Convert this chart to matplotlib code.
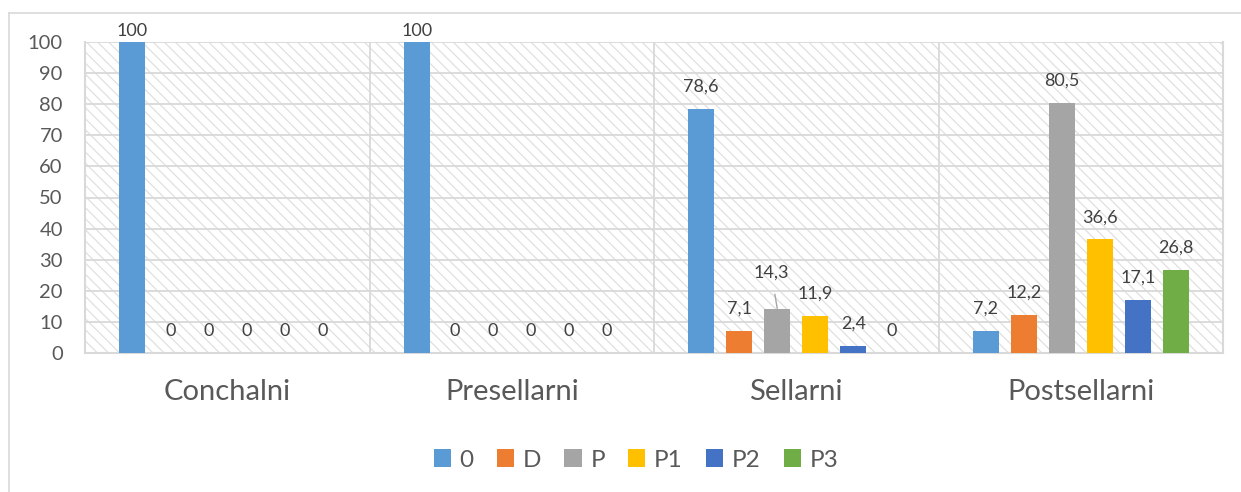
import matplotlib
matplotlib.use("Agg")
import matplotlib.pyplot as plt
from matplotlib.patches import Rectangle
from matplotlib.lines import Line2D
import numpy as np

plt.rcParams['font.family'] = ['Lato', 'DejaVu Sans']

categories = ["Conchalni", "Presellarni", "Sellarni", "Postsellarni"]
series_names = ["0", "D", "P", "P1", "P2", "P3"]
s_0 = [100, 100, 78.6, 7.2]
s_D = [0, 0, 7.1, 12.2]
s_P = [0, 0, 14.3, 80.5]
s_P1 = [0, 0, 11.9, 36.6]
s_P2 = [0, 0, 2.4, 17.1]
s_P3 = [0, 0, 0, 26.8]
series_values = [s_0, s_D, s_P, s_P1, s_P2, s_P3]
colors = ["#5B9BD5", "#ED7D31", "#A5A5A5", "#FFC000", "#4472C4", "#70AD47"]
yticks = [0, 10, 20, 30, 40, 50, 60, 70, 80, 90, 100]

W, H = 1241, 492
fig = plt.figure(figsize=(W / 100, H / 100), dpi=100)
ax = fig.add_axes([85 / W, 1 - 353 / H, (1223 - 85) / W, (353 - 42) / H])
ax.set_xlim(-0.5, 3.5)
ax.set_ylim(0, 100)

grid_c = "#d9d9d9"
plt.rcParams['hatch.linewidth'] = 0.9
ax.patch.set_facecolor("white")
bg = Rectangle((0, 0), 1, 1, transform=ax.transAxes, facecolor="white",
               edgecolor="#e0e0e0", hatch="\\\\\\", linewidth=0, zorder=0)
ax.add_patch(bg)

for y in yticks[1:]:
    ax.axhline(y, color=grid_c, lw=1.3, zorder=1)
for xb in [0.5, 1.5, 2.5]:
    ax.axvline(xb, color=grid_c, lw=1.3, zorder=1)

for sp in ["left", "right", "bottom"]:
    ax.spines[sp].set_color(grid_c)
    ax.spines[sp].set_linewidth(1.5)
ax.spines["top"].set_visible(False)

step = 38 / 284.5
bw = 26 / 284.5
x = np.arange(len(categories))
px_per_unit = (353 - 42) / 100.0


def fmt(v):
    if float(v).is_integer():
        return str(int(v))
    return ("%.1f" % v).replace(".", ",")

special = {(2, 2): (-6, 36)}  # label moved with leader line (px)

for i, (name, vals, c) in enumerate(zip(series_names, series_values, colors)):
    xs = x + (i - 2.5) * step
    ax.bar(xs, vals, width=bw, color=c, label=name, zorder=3)
    for j, (xx, v) in enumerate(zip(xs, vals)):
        off = 22
        top_px = v * px_per_unit
        if top_px + off > (353 - 42) + 10.5:
            off = (353 - 42) + 10.5 - top_px
        if (i, j) in special:
            dx, off = special[(i, j)]
            ax.annotate(fmt(v), xy=(xx, v), xytext=(dx * 0.72, off * 0.72),
                        textcoords="offset points", ha="center", va="center",
                        fontsize=13, color="#404040", zorder=5,
                        arrowprops=dict(arrowstyle="-", color="#a6a6a6", lw=1.0,
                                        shrinkA=8, shrinkB=0))
        else:
            ax.annotate(fmt(v), xy=(xx, v), xytext=(0, off * 0.72),
                        textcoords="offset points", ha="center", va="center",
                        fontsize=13, color="#404040", zorder=5,
                        annotation_clip=False)

ax.set_xticks(x)
ax.set_xticklabels(categories, fontsize=21, color="#595959")
ax.set_yticks(yticks)
ax.set_yticklabels([str(t) for t in yticks], fontsize=14.5, color="#595959")
ax.tick_params(axis="both", length=0)
ax.tick_params(axis="x", pad=19)
ax.tick_params(axis="y", pad=16)

leg = fig.legend(loc="center", bbox_to_anchor=(636 / W, 1 - 460 / H), ncol=6,
                 frameon=False, fontsize=17.5, handlelength=0.72, handleheight=0.72,
                 handletextpad=0.35, columnspacing=0.95)
for t in leg.get_texts():
    t.set_color("#595959")

fig.add_artist(Line2D([9 / W, 9 / W], [0, 1 - 13 / H], color=grid_c, lw=1.2))
fig.add_artist(Line2D([9 / W, 1], [1 - 13 / H, 1 - 13 / H], color=grid_c, lw=1.2))

fig.savefig("out.png", dpi=100)
